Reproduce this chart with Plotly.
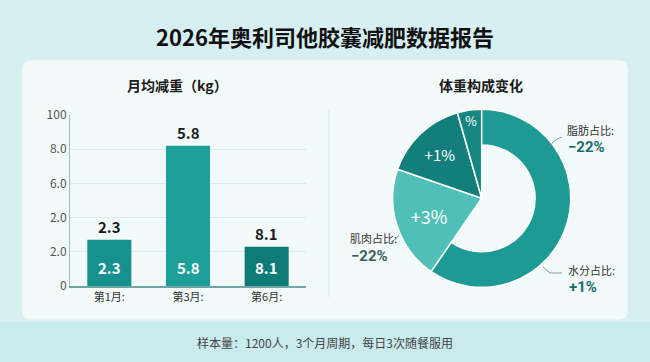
import plotly.graph_objects as go

W, H = 650, 362
FONT = "Noto Sans CJK SC"
NUM_FONT = "Roboto"

# ---- data ----
title = "2026年奥利司他胶囊减肥数据报告"
bar_title = "月均减重（kg）"
pie_title = "体重构成变化"
footer = "样本量：1200人，3个月周期，每日3次随餐服用"

months = ["第1月:", "第3月:", "第6月:"]
bar_heights = [2.7, 8.2, 2.3]
bar_labels = ["2.3", "5.8", "8.1"]
bar_colors = ["#17918d", "#1d9f9a", "#0f7b78"]
y_tickvals = [0, 2, 4, 6, 8, 10]
y_ticktext = ["0", "2.0", "2.0", "6.0", "8.0", "100"]

slice_names = ["水分", "肌肉", "脂肪", "其他"]
slice_values = [59.6, 20.7, 15.3, 4.4]
slice_text = ["", "+3%", "+1%", "%"]
slice_colors = ["#1e9a94", "#4fbfb8", "#127f7c", "#168682"]
slice_text_sizes = [12, 18, 15, 13]

callout_names = ["脂肪占比:", "肌肉占比:", "水分占比:"]
callout_values = ["−22%", "−22%", "+1%"]
callout_value_colors = ["#1b6d6a", "#3c5f5f", "#1b6d6a"]


def px_x(x):
    return x / W


def px_y(y):
    return 1 - y / H


def rounded_rect(x0, y0, x1, y1, r):
    rx, ry = r / W, r / H
    X0, X1 = px_x(x0), px_x(x1)
    Y0, Y1 = px_y(y0), px_y(y1)  # Y0 top, Y1 bottom
    return (f"M {X0+rx},{Y0} L {X1-rx},{Y0} Q {X1},{Y0} {X1},{Y0-ry} "
            f"L {X1},{Y1+ry} Q {X1},{Y1} {X1-rx},{Y1} L {X0+rx},{Y1} "
            f"Q {X0},{Y1} {X0},{Y1+ry} L {X0},{Y0-ry} Q {X0},{Y0} {X0+rx},{Y0} Z")


fig = go.Figure()

fig.add_trace(go.Bar(
    x=months, y=bar_heights, marker=dict(color=bar_colors, line=dict(width=0)),
    width=0.56, hoverinfo="skip", showlegend=False,
))

# donut: full-wedge layer (small slices), then ring layer (large slice)
pie_dom = dict(x=[px_x(481.7 - 89), px_x(481.7 + 89)], y=[px_y(198.3 + 89), px_y(198.3 - 89)])
fig.add_trace(go.Pie(
    labels=slice_names, values=slice_values, sort=False, direction="clockwise", rotation=0,
    domain=pie_dom, hole=0,
    marker=dict(colors=["rgba(0,0,0,0)"] + slice_colors[1:],
                line=dict(color=["rgba(0,0,0,0)", "white", "white", "white"], width=[0, 1.5, 1.5, 1.5])),
    text=slice_text, textinfo="text", textposition="inside", insidetextorientation="horizontal",
    textfont=dict(color="white", size=slice_text_sizes, family=FONT),
    hoverinfo="skip", showlegend=False,
))
fig.add_trace(go.Pie(
    labels=slice_names, values=slice_values, sort=False, direction="clockwise", rotation=0,
    domain=pie_dom, hole=0.6,
    marker=dict(colors=[slice_colors[0]] + ["rgba(0,0,0,0)"] * 3,
                line=dict(color=["white", "rgba(0,0,0,0)", "rgba(0,0,0,0)", "rgba(0,0,0,0)"], width=[1.5, 0, 0, 0])),
    textinfo="none", hoverinfo="skip", showlegend=False,
))


def ann(text, x, y, size, color, xanchor="center", xref="paper", yref="paper", yshift=0, family=FONT):
    return dict(text=text, x=x, y=y, xref=xref, yref=yref, xanchor=xanchor, yanchor="middle",
                yshift=yshift, showarrow=False, font=dict(size=size, color=color, family=family))


annotations = [
    ann(f"<b>{title}</b>", 0.5, px_y(36), 22, "#111111"),
    ann(f"<b>{bar_title}</b>", px_x(177), px_y(85), 14, "#1a1a1a"),
    ann(f"<b>{pie_title}</b>", px_x(481), px_y(85), 14, "#1a1a1a"),
    ann(footer, 0.5, px_y(342), 12, "#444444"),
]
for m, h, lab in zip(months, bar_heights, bar_labels):
    annotations.append(ann(f"<b>{lab}</b>", m, h, 15, "#1a1a1a", xref="x", yref="y", yshift=13))
    annotations.append(ann(f"<b>{lab}</b>", m, 0, 15, "white", xref="x", yref="y", yshift=19))

callout_pos = [(565, 138), (348, 247), (566, 278)]
for name, val, col, (cx, cy) in zip(callout_names, callout_values, callout_value_colors, callout_pos):
    annotations.append(ann(name, px_x(cx), px_y(cy - 8.5), 11, "#333333", xanchor="left"))
    annotations.append(ann(f"<b>{val}</b>", px_x(cx + 1), px_y(cy + 8.5), 15, col,
                           xanchor="left", family=NUM_FONT))


def poly(points):
    return "M " + " L ".join(f"{px_x(x)},{px_y(y)}" for x, y in points)


shapes = [
    dict(type="rect", xref="paper", yref="paper", x0=0, x1=1, y0=0, y1=px_y(322),
         fillcolor="#c9ebed", line=dict(width=0), layer="below"),
    dict(type="path", xref="paper", yref="paper", path=rounded_rect(22, 60, 628, 320, 10),
         fillcolor="#f3fafa", line=dict(color="#e4f1f1", width=1), layer="below"),
    dict(type="line", xref="paper", yref="paper", x0=px_x(329), x1=px_x(329), y0=px_y(110), y1=px_y(297),
         line=dict(color="#dce6e6", width=1), layer="below"),
    dict(type="path", xref="paper", yref="paper", path=poly([(562, 137), (555, 140), (549, 147)]),
         line=dict(color="#8a9a9a", width=1)),
    dict(type="path", xref="paper", yref="paper", path=poly([(391, 242), (396, 239), (399, 235)]),
         line=dict(color="#8a9a9a", width=1)),
    dict(type="path", xref="paper", yref="paper", path=poly([(543, 267), (550, 273), (562, 273)]),
         line=dict(color="#8a9a9a", width=1)),
]

fig.update_layout(
    width=W, height=H, margin=dict(l=0, r=0, t=0, b=0, autoexpand=False),
    paper_bgcolor="#d6eff1", plot_bgcolor="rgba(0,0,0,0)",
    font=dict(family=FONT),
    bargap=0.44,
    xaxis=dict(domain=[px_x(70), px_x(306)], showgrid=False, zeroline=False, automargin=False,
               showline=True, linecolor="#6fa5a5", linewidth=1.5, ticks="",
               tickfont=dict(size=11, color="#333333", family=FONT), fixedrange=True),
    yaxis=dict(domain=[px_y(286), px_y(115)], range=[0, 10], tickvals=y_tickvals, ticktext=y_ticktext,
               showgrid=True, gridcolor="#dde8e8", gridwidth=1, zeroline=False, automargin=False,
               showline=True, linecolor="#9dbdbd", linewidth=1, ticks="",
               tickfont=dict(size=12, color="#555555", family=FONT), fixedrange=True),
    annotations=annotations, shapes=shapes,
)

fig.write_html("out.html", config={"displayModeBar": False},
               post_script="document.body.style.margin='0';document.body.style.overflow='hidden';")
